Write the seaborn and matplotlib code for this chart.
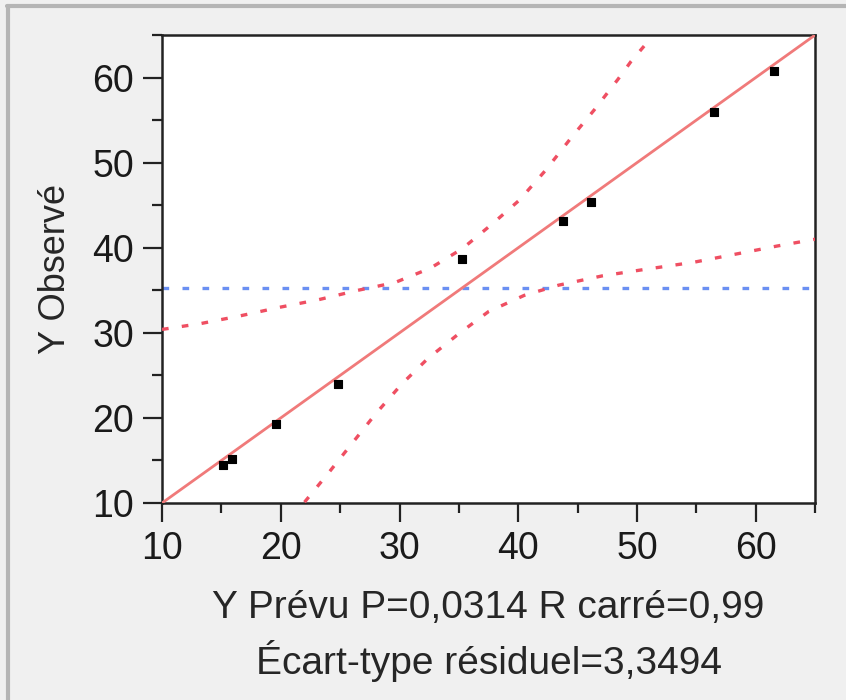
import numpy as np
import pandas as pd
import matplotlib.pyplot as plt
import seaborn as sns
from matplotlib.lines import Line2D
from matplotlib.ticker import MultipleLocator

y_pred = [15.1, 15.9, 19.6, 24.8, 35.3, 43.8, 46.1, 56.5, 61.5]
y_obs = [14.5, 15.2, 19.3, 24.0, 38.7, 43.1, 45.4, 56.0, 60.8]

# Confidence curves
upper_x = [10.0, 13.3, 16.6, 19.9, 23.2, 26.5, 29.6, 32.6, 35.3, 37.9, 40.1, 42.3, 44.5, 46.4, 48.4, 49.5, 50.6]
upper_y = [30.4, 31.1, 32.0, 33.0, 33.9, 35.0, 35.9, 37.6, 39.9, 42.9, 45.6, 49.1, 53.0, 56.2, 59.8, 61.9, 63.7]
lower_x = [22.0, 24.0, 26.0, 28.0, 30.2, 32.4, 35.0, 37.5, 40.5, 43.4, 47.1, 50.4, 54.8, 58.5, 61.8, 65.0]
lower_y = [10.1, 13.5, 17.0, 20.5, 24.0, 27.0, 29.9, 32.5, 34.4, 35.6, 36.7, 37.4, 38.3, 39.3, 40.2, 41.0]

pts = pd.DataFrame({'Y Prévu': y_pred, 'Y Observé': y_obs})
upper = pd.DataFrame({'x': upper_x, 'y': upper_y})
lower = pd.DataFrame({'x': lower_x, 'y': lower_y})

sns.set_theme(style='ticks')
plt.rcParams['font.family'] = ['Liberation Sans', 'DejaVu Sans']
plt.rcParams['text.color'] = '#1a1a1a'

fig, ax = plt.subplots(figsize=(8.46, 7), dpi=100)
fig.patch.set_facecolor('#f0f0f0')
ax.set_facecolor('white')
ax.set_position([0.1915, 0.2814, 0.772, 0.6686])

# mean line and fit line
mean_y = np.mean(y_obs)
ax.axhline(mean_y, color='#6a8ff2', lw=2.4, dashes=(2.0, 4.0), zorder=2)
ax.axline((mean_y, mean_y), slope=1, color='#f07a7a', lw=2.0, zorder=3)

# confidence curves
for curve in (upper, lower):
    sns.lineplot(data=curve, x='x', y='y', ax=ax, color='#ef4f62', lw=2.4,
                 sort=False, zorder=3)
for line in ax.get_lines()[2:]:
    line.set_dashes((2.0, 4.0))

sns.scatterplot(data=pts, x='Y Prévu', y='Y Observé', ax=ax, color='black',
                marker='s', s=26, edgecolor='black', linewidth=0.8, zorder=5)

ax.set_xlim(10, 65)
ax.set_ylim(10, 65)
ax.xaxis.set_major_locator(MultipleLocator(10))
ax.yaxis.set_major_locator(MultipleLocator(10))
ax.xaxis.set_minor_locator(MultipleLocator(5))
ax.yaxis.set_minor_locator(MultipleLocator(5))
ax.tick_params(which='major', length=14, width=1.6, color='#222222',
               labelsize=27, labelcolor='#1a1a1a', pad=6)
ax.tick_params(which='minor', length=7, width=1.6, color='#222222')
for sp in ax.spines.values():
    sp.set_visible(True)
    sp.set_linewidth(1.8)
    sp.set_color('#222222')

ax.set_xlabel('Y Prévu P=0,0314 R carré=0,99\nÉcart-type résiduel=3,3494',
              fontsize=28, linespacing=1.4, labelpad=17)
ax.set_ylabel('Y Observé', fontsize=26, labelpad=14)

# panel frame
fig.add_artist(Line2D([0.008, 1.0], [0.991, 0.991], transform=fig.transFigure,
                      color='#b5b5b5', lw=3))
fig.add_artist(Line2D([0.009, 0.009], [0.0, 0.991], transform=fig.transFigure,
                      color='#b5b5b5', lw=3))

fig.savefig('out.png', dpi=100, facecolor=fig.get_facecolor())
